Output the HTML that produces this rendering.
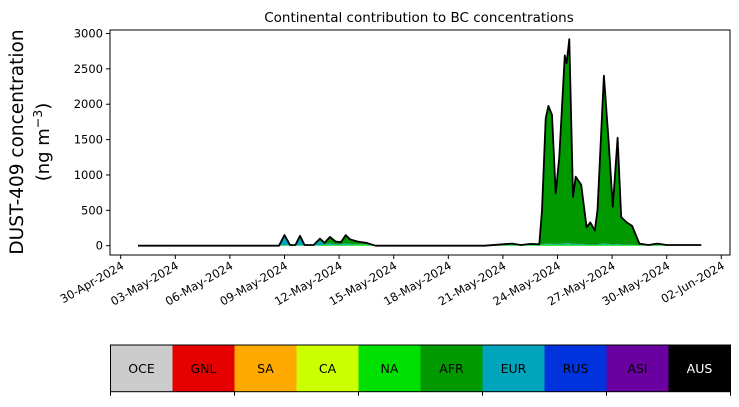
<!DOCTYPE html>
<html><head><meta charset="utf-8"><style>
body{margin:0;background:#fff;width:739px;height:402px;overflow:hidden;font-family:"Liberation Sans","DejaVu Sans",sans-serif}
svg text{font-family:"DejaVu Sans","Liberation Sans",sans-serif}
</style></head><body>
<svg id="chart" width="739" height="402" xmlns="http://www.w3.org/2000/svg">
<text x="419" y="22" font-size="13.5" text-anchor="middle">Continental contribution to BC concentrations</text>
<g transform="translate(17,142) rotate(-90)">
<text x="0" y="6" font-size="18.5" text-anchor="middle">DUST-409 concentration</text>
<text x="0" y="32" font-size="18" text-anchor="middle">(ng m<tspan font-size="12.5" dy="-7">−3</tspan><tspan dy="7">)</tspan></text>
</g>
<g id="plot"></g>
<g id="legend"></g>
</svg>
<script>
const days=[0.95,5,8.7,9.0,9.3,9.6,9.85,10.1,10.6,10.95,11.2,11.5,11.8,12.1,12.36,12.6,13.0,13.5,14.0,20,21.5,22,22.5,23.0,23.15,23.35,23.5,23.7,23.9,24.1,24.4,24.5,24.65,24.85,25.0,25.3,25.6,25.8,26.05,26.2,26.55,26.8,27.04,27.3,27.5,27.8,28.1,28.5,29,29.5,30,31.9];
const naVals=[0,0,0,10,3,3,10,3,3,10,10,15,10,10,15,15,15,15,0,0,10,5,8,8,15,20,20,20,15,15,20,20,20,15,15,15,10,10,10,10,20,15,10,15,10,10,10,5,5,10,5,5];
const eurVals=[0,0,0,120,5,5,110,5,5,60,10,20,10,10,20,10,5,5,0,0,5,2,5,2,5,10,10,10,10,10,15,15,15,10,10,10,5,5,5,5,15,10,5,10,5,5,5,2,2,2,2,2];
const afrVals=[0,0,0,20,2,2,20,2,2,30,20,90,40,30,115,65,40,20,0,0,15,3,12,10,480,1770,1946,1820,715,1232,2655,2545,2885,665,950,835,245,315,200,485,2370,1475,535,1500,390,315,265,23,3,18,3,3];
const yTicks=[0,500,1000,1500,2000,2500,3000];
const xTickDays=[0,3,6,9,12,15,18,21,24,27,30,33];
const xTickLabels=["30-Apr-2024","03-May-2024","06-May-2024","09-May-2024","12-May-2024","15-May-2024","18-May-2024","21-May-2024","24-May-2024","27-May-2024","30-May-2024","02-Jun-2024"];
const legendNames=["OCE","GNL","SA","CA","NA","AFR","EUR","RUS","ASI","AUS"];
const legendColors=["#cccccc","#e60000","#ffaa00","#ccff00","#00e000","#009900","#00a5bd","#0033dd","#6a00a0","#000000"];

const NS="http://www.w3.org/2000/svg";
const L=110,R=730,T=30,B=255;
const xs=d=>120.7+18.2*d;
const ys=v=>245.7-v*0.07073;
function mk(tag,attrs,parent){const e=document.createElementNS(NS,tag);for(const k in attrs)e.setAttribute(k,attrs[k]);parent.appendChild(e);return e;}
const plot=document.getElementById('plot');
const layers=[[naVals,"#00e000","na-area"],[eurVals,"#00a5bd","eur-area"],[afrVals,"#009900","afr-area"]];
let base=days.map(()=>0);
layers.forEach(([vals,col,name])=>{
  const top=base.map((b,i)=>b+vals[i]);
  let d="M"+days.map((dd,i)=>xs(dd).toFixed(1)+","+ys(top[i]).toFixed(1)).join("L");
  for(let i=days.length-1;i>=0;i--)d+="L"+xs(days[i]).toFixed(1)+","+ys(base[i]).toFixed(1);
  const p=mk('path',{d:d+"Z",fill:col,stroke:"none"},plot);
  
  
  base=top;
});
const tot=base;
const line=mk('path',{d:"M"+days.map((dd,i)=>xs(dd).toFixed(1)+","+ys(tot[i]).toFixed(1)).join("L"),fill:"none",stroke:"#000","stroke-width":1.8,"stroke-linejoin":"round"},plot);


const frame=mk('rect',{x:L,y:T,width:R-L,height:B-T,fill:"none",stroke:"#000","stroke-width":1},plot);


yTicks.forEach(v=>{
  const y=ys(v);
  mk('line',{x1:L-4,x2:L,y1:y,y2:y,stroke:"#000"},plot);
  const t=mk('text',{x:L-7,y:y+4,"font-size":11.5,"text-anchor":"end"},plot);
  t.textContent=v;
  
  
});
xTickDays.forEach((d,i)=>{
  const x=xs(d);
  mk('line',{x1:x,x2:x,y1:B,y2:B+4,stroke:"#000"},plot);
  const t=mk('text',{x:0,y:0,"font-size":11.5,"text-anchor":"end",transform:`translate(${x+4},${B+13}) rotate(-30)`},plot);
  t.textContent=xTickLabels[i];
  
  
});
const leg=document.getElementById('legend');
const cw=62,ly=345,lh=46.7;
legendNames.forEach((n,i)=>{
  const r=mk('rect',{x:110.5+i*cw,y:ly,width:cw,height:lh,fill:legendColors[i]},leg);
  
  
  const t=mk('text',{x:110.5+i*cw+cw/2,y:ly+lh/2+4.5,"font-size":12.5,"text-anchor":"middle",fill:n==="AUS"?"#fff":"#000"},leg);
  t.textContent=n;
  
  
});
const lb=mk('rect',{x:110.5,y:ly,width:cw*10,height:lh,fill:"none",stroke:"#000"},leg);


for(let i=0;i<=10;i+=2){mk('line',{x1:110.5+i*cw,x2:110.5+i*cw,y1:ly+lh,y2:ly+lh+4,stroke:"#000"},leg);}
</script>
</body></html>
